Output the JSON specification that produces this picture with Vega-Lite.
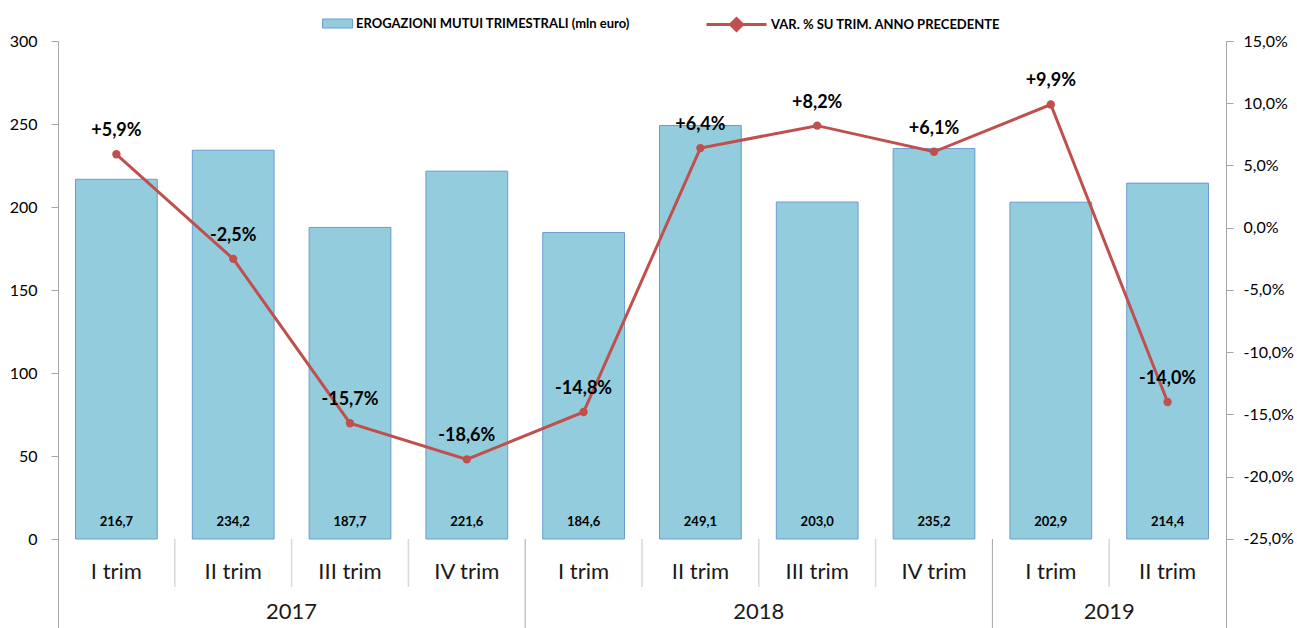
{
  "$schema": "https://vega.github.io/schema/vega-lite/v6.json",
  "width": 1168,
  "height": 587,
  "padding": {"left": 9, "top": 8, "right": 0, "bottom": 0},
  "autosize": {"type": "pad"},
  "config": {
    "locale": {"number": {"decimal": ",", "thousands": ".", "grouping": [3], "currency": ["", " €"], "minus": "-"}},
    "view": {"stroke": null},
    "font": "Lato",
    "axis": {"grid": false}
  },
  "data": {"values": [
    {"idx": 0, "anno": "2017", "trim": "I trim", "val": 216.7, "var": 0.059},
    {"idx": 1, "anno": "2017", "trim": "II trim", "val": 234.2, "var": -0.025},
    {"idx": 2, "anno": "2017", "trim": "III trim", "val": 187.7, "var": -0.157},
    {"idx": 3, "anno": "2017", "trim": "IV trim", "val": 221.6, "var": -0.186},
    {"idx": 4, "anno": "2018", "trim": "I trim", "val": 184.6, "var": -0.148},
    {"idx": 5, "anno": "2018", "trim": "II trim", "val": 249.1, "var": 0.064},
    {"idx": 6, "anno": "2018", "trim": "III trim", "val": 203.0, "var": 0.082},
    {"idx": 7, "anno": "2018", "trim": "IV trim", "val": 235.2, "var": 0.061},
    {"idx": 8, "anno": "2019", "trim": "I trim", "val": 202.9, "var": 0.099},
    {"idx": 9, "anno": "2019", "trim": "II trim", "val": 214.4, "var": -0.140}
  ]},
  "resolve": {"scale": {"x": "independent", "y": "independent"}},
  "layer": [
    {
      "resolve": {"scale": {"y": "independent"}},
      "encoding": {
        "x": {"field": "idx", "type": "ordinal", "axis": null, "scale": {"paddingInner": 0, "paddingOuter": 0}}
      },
      "layer": [
        {
          "layer": [
            {
              "mark": {"type": "bar", "width": {"band": 0.7}, "stroke": "#6A9BD1", "strokeWidth": 1},
              "encoding": {
                "y": {"field": "val", "type": "quantitative",
                  "scale": {"domain": [-53.61, 300], "nice": false, "zero": false},
                  "axis": {"orient": "left", "values": [0, 50, 100, 150, 200, 250, 300], "title": null,
                    "domainColor": "#A6A6A6", "tickColor": "#A6A6A6", "tickSize": 7, "labelFontSize": 16,
                    "labelPadding": 14, "labelColor": "#000000", "labelFont": "Lato"}},
                "fill": {"datum": "EROGAZIONI MUTUI TRIMESTRALI (mln euro)", "type": "nominal",
                  "scale": {"range": ["#93CDDD"]},
                  "legend": {"orient": "none", "legendX": 264, "legendY": -33, "direction": "horizontal", "title": null,
                    "labelFont": "Lato", "labelFontSize": 13, "labelFontWeight": "bold", "labelColor": "#000000",
                    "labelLimit": 600, "symbolSize": 900, "labelOffset": 3,
                    "symbolType": "M-1,-0.3H1V0.3H-1Z", "symbolStrokeColor": "#6A9BD1", "symbolStrokeWidth": 1, "symbolOpacity": 1}
                }
              }
            },
            {
              "mark": {"type": "text", "fontSize": 13, "fontWeight": "bold", "dy": -17, "baseline": "middle", "color": "#000000"},
              "encoding": {
                "y": {"datum": 0, "type": "quantitative"},
                "text": {"field": "val", "type": "quantitative", "format": ".1f"}
              }
            },
            {
              "mark": {"type": "rule", "color": "#A6A6A6", "strokeWidth": 1},
              "encoding": {"y": {"datum": 0, "type": "quantitative"}}
            },
            {
              "transform": [{"filter": "datum.trim !== 'I trim'"}],
              "mark": {"type": "rule", "color": "#D9D9D9", "strokeWidth": 1.5},
              "encoding": {
                "x": {"field": "idx", "type": "ordinal", "bandPosition": 0},
                "y": {"datum": 0, "type": "quantitative"},
                "y2": {"datum": -28.92}
              }
            },
            {
              "transform": [{"filter": "datum.trim === 'I trim' && datum.idx > 0"}],
              "mark": {"type": "rule", "color": "#A6A6A6", "strokeWidth": 1},
              "encoding": {
                "x": {"field": "idx", "type": "ordinal", "bandPosition": 0},
                "y": {"datum": 0, "type": "quantitative"},
                "y2": {"datum": -53.61}
              }
            },
            {
              "mark": {"type": "text", "fontSize": 22, "baseline": "middle", "color": "#1A1A1A"},
              "encoding": {
                "y": {"datum": -19.88, "type": "quantitative"},
                "text": {"field": "trim", "type": "nominal"}
              }
            }
          ]
        },
        {
          "encoding": {
            "y": {"field": "var", "type": "quantitative",
              "scale": {"domain": [-0.32149, 0.15], "nice": false, "zero": false},
              "axis": {"orient": "right", "values": [-0.25, -0.2, -0.15, -0.1, -0.05, 0, 0.05, 0.1, 0.15], "format": ".1%", "title": null,
                "domainColor": "#A6A6A6", "tickColor": "#A6A6A6", "tickSize": 7, "labelFontSize": 16,
                "labelPadding": 10, "labelColor": "#000000", "labelFont": "Lato"}}
          },
          "layer": [
            {
              "mark": {"type": "line", "strokeWidth": 3},
              "encoding": {
                "stroke": {"datum": "VAR. % SU TRIM. ANNO PRECEDENTE", "type": "nominal",
                  "scale": {"range": ["#C0504D"]},
                  "legend": {"orient": "none", "legendX": 677, "legendY": -33, "direction": "horizontal", "title": null,
                    "labelFont": "Lato", "labelFontSize": 13, "labelFontWeight": "bold", "labelColor": "#000000",
                    "labelLimit": 600, "symbolSize": 900, "labelOffset": 3,
                    "symbolType": "M-3,0H1M-1,-0.4L-0.6,0L-1,0.4L-1.4,0Z", "symbolFillColor": "#C0504D", "symbolStrokeWidth": 3, "symbolOpacity": 1}
                }
              }
            },
            {
              "mark": {"type": "circle", "size": 70, "color": "#C0504D", "opacity": 1}
            },
            {
              "mark": {"type": "text", "fontSize": 18, "fontWeight": "bold", "dy": -23, "baseline": "middle", "color": "#000000"},
              "encoding": {
                "text": {"field": "var", "type": "quantitative", "format": "+.1%"}
              }
            }
          ]
        }
      ]
    },
    {
      "transform": [{"aggregate": [{"op": "mean", "field": "idx", "as": "midx"}], "groupby": ["anno"]}],
      "mark": {"type": "text", "fontSize": 22, "baseline": "middle", "color": "#1A1A1A"},
      "encoding": {
        "x": {"field": "midx", "type": "quantitative", "scale": {"domain": [-0.5, 9.5], "nice": false, "zero": false}, "axis": null},
        "y": {"datum": -43.98, "type": "quantitative", "scale": {"domain": [-53.61, 300], "nice": false, "zero": false}, "axis": null},
        "text": {"field": "anno", "type": "nominal"}
      }
    }
  ]
}
